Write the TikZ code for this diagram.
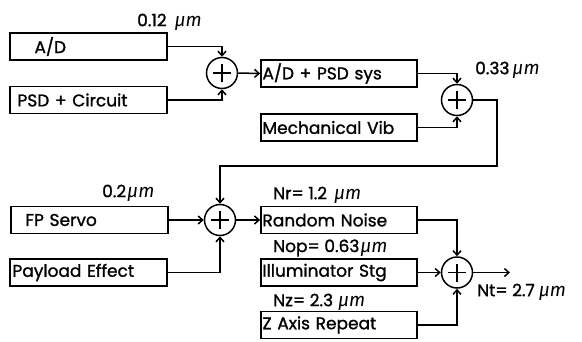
\documentclass[tikz,border=0pt]{standalone}
\usepackage{fontspec}
\setmainfont{Poppins}[FakeBold=1.2,AutoFakeBold=1.2]
\newfontfamily\greekfont{Fira Sans}
\usetikzlibrary{positioning,arrows.meta,calc}
\newcommand{\um}{{\greekfont\fontsize{19}{19}\selectfont\mdseries\itshape μm}}
\tikzset{
  wire/.style={-{Straight Barb[length=4.5pt,width=8pt]},line width=1.5pt},
  blk/.style={draw,line width=1.8pt,minimum width=157pt,minimum height=27pt,
    inner xsep=1pt,inner ysep=0pt,text width=154pt,align=left,
    font=\fontsize{17}{19}\selectfont\bfseries},
  sum/.style={draw,circle,line width=1.5pt,minimum size=31pt,inner sep=0pt,
    path picture={\draw[line width=1.3pt]
      ($(path picture bounding box.center)+(-9pt,0)$) -- ++(18pt,0)
      ($(path picture bounding box.center)+(0,-9pt)$) -- ++(0,18pt);}},
  lbl/.style={anchor=west,inner sep=0pt,font=\fontsize{17}{19}\selectfont\bfseries}
}
\begin{document}
\begin{tikzpicture}[x=1pt,y=-1pt]
  \useasboundingbox (0,0) rectangle (582,341);

  \node[blk] (ad) at (88.5,46.5) {\hspace*{23pt}A/D};
  \node[blk] (psd) at (88.5,100) {\hspace*{6pt}PSD + Circuit};
  \node[sum] (s1) at (222,73) {};
  \node[blk,minimum width=156pt,text width=153pt] (adsys) at (339,73.5) {A/D + PSD sys};
  \node[blk,minimum width=156pt,text width=153pt] (mech) at (339,127.5) {Mechanical Vib};
  \node[sum] (s2) at (457,100) {};
  \coordinate (loop) at (497,166);

  \node[blk] (fp) at (89.5,220) {\hspace*{13pt}FP Servo};
  \node[blk] (pay) at (88.5,272.5) {\hspace*{1pt}Payload Effect};
  \node[sum] (s3) at (220,220) {};
  \node[blk,minimum width=156pt,text width=153pt] (rnoise) at (339,220) {Random Noise};
  \node[blk,minimum width=156pt,text width=153pt] (illum) at (339,272.5) {Illuminator Stg};
  \node[blk,minimum width=156pt,text width=153pt] (zaxis) at (339,325) {Z Axis Repeat};
  \node[sum] (s4) at (457,272.5) {};
  \coordinate (out) at (510,272.5);

  \node[lbl] (l1) at (137,22) {0.12\hspace{8pt}\um};
  \node[lbl] (l2) at (475,70) {0.33\hspace{3pt}\um};
  \node[lbl] (l3) at (102,193) {0.2\hspace{1pt}\um};
  \node[lbl] (lnr) at (273,195) {Nr= 1.2\hspace{7pt}\um};
  \node[lbl] (lnop) at (273,248) {Nop= 0.63\hspace{1pt}\um};
  \node[lbl] (lnz) at (273,302) {Nz= 2.3\hspace{5pt}\um};
  \node[lbl] (lnt) at (477,292) {Nt= 2.7\hspace{4pt}\um};

  \draw[wire] (ad.east) -| (s1.north);
  \draw[wire] (psd.east) -| (s1.south);
  \draw[wire] (s1.east) -- (adsys.west);
  \draw[wire] (adsys.east) -| (s2.north);
  \draw[wire] (mech.east) -| (s2.south);
  \draw[wire] (s2.east) -| (loop) -| (s3.north);
  \draw[wire] (fp.east) -- (s3.west);
  \draw[wire] (pay.east) -| (s3.south);
  \draw[wire] (s3.east) -- (rnoise.west);
  \draw[wire] (rnoise.east) -| (s4.north);
  \draw[wire] (illum.east) -- (s4.west);
  \draw[wire] (zaxis.east) -| (s4.south);
  \draw[wire] (s4.east) -- (out);
\end{tikzpicture}
\end{document}
